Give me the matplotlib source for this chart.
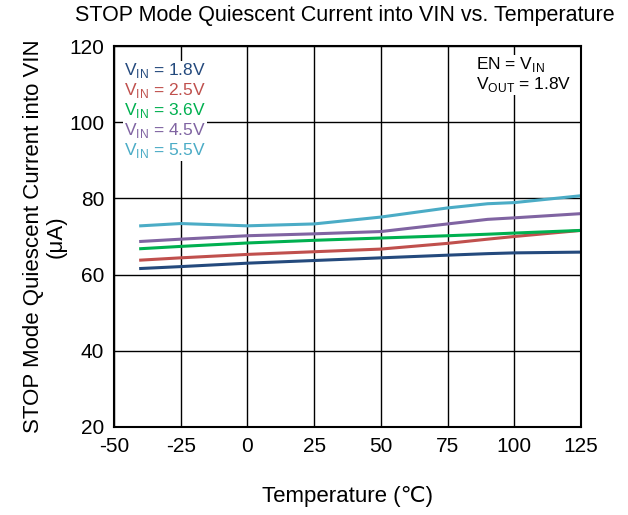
import matplotlib
matplotlib.use('Agg')
import matplotlib.pyplot as plt

plt.rcParams['font.family'] = ['Liberation Sans', 'DejaVu Sans']
plt.rcParams['mathtext.fontset'] = 'custom'
plt.rcParams['mathtext.rm'] = 'Liberation Sans'
plt.rcParams['axes.unicode_minus'] = False

# dati
temp = [-40, -25, 0, 25, 50, 75, 90, 100, 125]
i_18 = [61.6, 62.1, 63.0, 63.7, 64.4, 65.1, 65.5, 65.7, 65.9]
i_25 = [63.8, 64.4, 65.3, 66.0, 66.7, 68.2, 69.3, 70.0, 71.6]
i_36 = [66.8, 67.4, 68.3, 69.0, 69.6, 70.2, 70.6, 70.9, 71.6]
i_45 = [68.7, 69.3, 70.2, 70.7, 71.3, 73.3, 74.5, 74.9, 76.0]
i_55 = [72.8, 73.4, 72.8, 73.3, 75.1, 77.5, 78.6, 78.9, 80.7]

serie = [i_18, i_25, i_36, i_45, i_55]
etichette = ['1.8V', '2.5V', '3.6V', '4.5V', '5.5V']
colori = ['#244a7d', '#c0504d', '#00b050', '#8064a2', '#4bacc6']

fig = plt.figure(figsize=(6.28, 5.15), dpi=100)
ax = fig.add_axes([114/628, 1-427/515, (581-114)/628, (427-46)/515])

for y, c in zip(serie, colori):
    ax.plot(temp, y, color=c, linewidth=2.2)

ax.set_xlim(-50, 125)
ax.set_ylim(20, 120)
ax.set_xticks(range(-50, 126, 25))
ax.set_yticks(range(20, 121, 20))
ax.grid(True, color='black', linewidth=1)
ax.tick_params(length=0, labelsize=15, pad=7)
for s in ax.spines.values():
    s.set_linewidth(1.5)

# legenda come testo colorato con sfondo bianco
box = dict(facecolor='white', edgecolor='none', pad=0.5)
for k, (lab, c) in enumerate(zip(etichette, colori)):
    fig.text(124/628, 1-(71 + k*20)/515, r'V$_{\mathrm{IN}}$ = ' + lab, color=c,
             fontsize=12.5, va='center', ha='left', bbox=box)

fig.text(476/628, 1-65/515, r'EN = V$_{\mathrm{IN}}$', fontsize=12.5, va='center', bbox=box)
fig.text(476/628, 1-85/515, r'V$_{\mathrm{OUT}}$ = 1.8V', fontsize=12.5, va='center', bbox=box)

fig.text(345/628, 1-16/515, 'STOP Mode Quiescent Current into VIN vs. Temperature',
         fontsize=15.5, ha='center', va='center')
ax.set_xlabel('Temperature (℃)', fontsize=16, labelpad=22)
ax.set_ylabel('STOP Mode Quiescent Current into VIN\n(μA)', fontsize=16,
              labelpad=2, linespacing=1.1)

fig.savefig('out.png', dpi=100)
